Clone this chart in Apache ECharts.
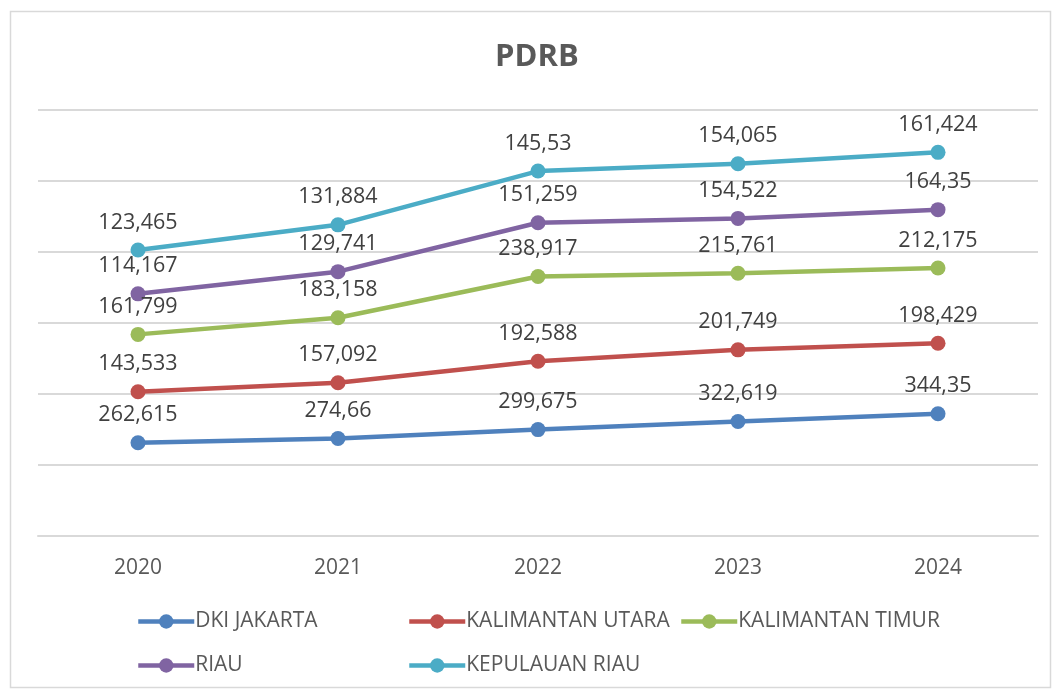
<!DOCTYPE html>
<html>
<head>
<meta charset="utf-8">
<script src="https://cdn.jsdelivr.net/npm/echarts@6/dist/echarts.min.js"></script>
<style>
html,body{margin:0;padding:0;background:#fff;}
#chart{width:1055px;height:690px;}
</style>
</head>
<body>
<div id="chart"></div>
<script>
const years = ['2020', '2021', '2022', '2023', '2024'];
const seriesNames = ['DKI JAKARTA', 'KALIMANTAN UTARA', 'KALIMANTAN TIMUR', 'RIAU', 'KEPULAUAN RIAU'];
const dkiJakarta = [262.615, 274.66, 299.675, 322.619, 344.35];
const kalimantanUtara = [143.533, 157.092, 192.588, 201.749, 198.429];
const kalimantanTimur = [161.799, 183.158, 238.917, 215.761, 212.175];
const riau = [114.167, 129.741, 151.259, 154.522, 164.35];
const kepulauanRiau = [123.465, 131.884, 145.53, 154.065, 161.424];
const colors = ['#4F81BD', '#C0504D', '#9BBB59', '#8064A2', '#4BACC6'];

const values = [dkiJakarta, kalimantanUtara, kalimantanTimur, riau, kepulauanRiau];
const FONT = 'Open Sans';

const chart = echarts.init(document.getElementById('chart'));

const legendPos = [
  {left: 136, top: 611},
  {left: 407, top: 611},
  {left: 679, top: 611},
  {left: 136, top: 655},
  {left: 407, top: 655}
];

const option = {
  backgroundColor: '#fff',
  color: colors,
  graphic: [{
    type: 'rect',
    shape: {x: 10.5, y: 11.5, width: 1040, height: 676},
    style: {fill: 'none', stroke: '#D9D9D9', lineWidth: 1.5},
    silent: true
  }],
  title: {
    text: 'PDRB',
    left: 490,
    top: 37,
    textStyle: {fontFamily: FONT, fontSize: 31, fontWeight: 'bold', color: '#595959'}
  },
  legend: seriesNames.map((n, i) => ({
    data: [n],
    left: legendPos[i].left,
    top: legendPos[i].top,
    itemWidth: 56,
    itemHeight: 18,
    itemGap: 0,
    padding: 0,
    lineStyle: {width: 4.5},
    textStyle: {fontFamily: FONT, fontSize: 21, color: '#595959', padding: [0, 0, 0, -4]}
  })),
  grid: {left: 38, right: 17, top: 110, bottom: 154},
  xAxis: {
    type: 'category',
    data: years,
    boundaryGap: true,
    axisLine: {lineStyle: {color: '#D9D9D9', width: 2}},
    axisTick: {show: false},
    axisLabel: {fontFamily: FONT, fontSize: 21, color: '#595959', margin: 22}
  },
  yAxis: {
    type: 'value',
    min: 0,
    max: 1200,
    interval: 200,
    axisLabel: {show: false},
    axisLine: {show: false},
    axisTick: {show: false},
    splitLine: {lineStyle: {color: '#D9D9D9', width: 2}}
  },
  series: seriesNames.map((n, i) => ({
    name: n,
    type: 'line',
    stack: 'total',
    data: values[i],
    symbol: 'circle',
    symbolSize: 15,
    lineStyle: {width: 4.5, color: colors[i]},
    itemStyle: {color: colors[i]},
    label: {
      show: true,
      position: 'top',
      distance: 9,
      fontFamily: FONT,
      fontSize: 21.5,
      color: '#404040',
      formatter: p => String(p.value).replace('.', ',')
    },
    animation: false
  }))
};
chart.setOption(option);
</script>
</body>
</html>
